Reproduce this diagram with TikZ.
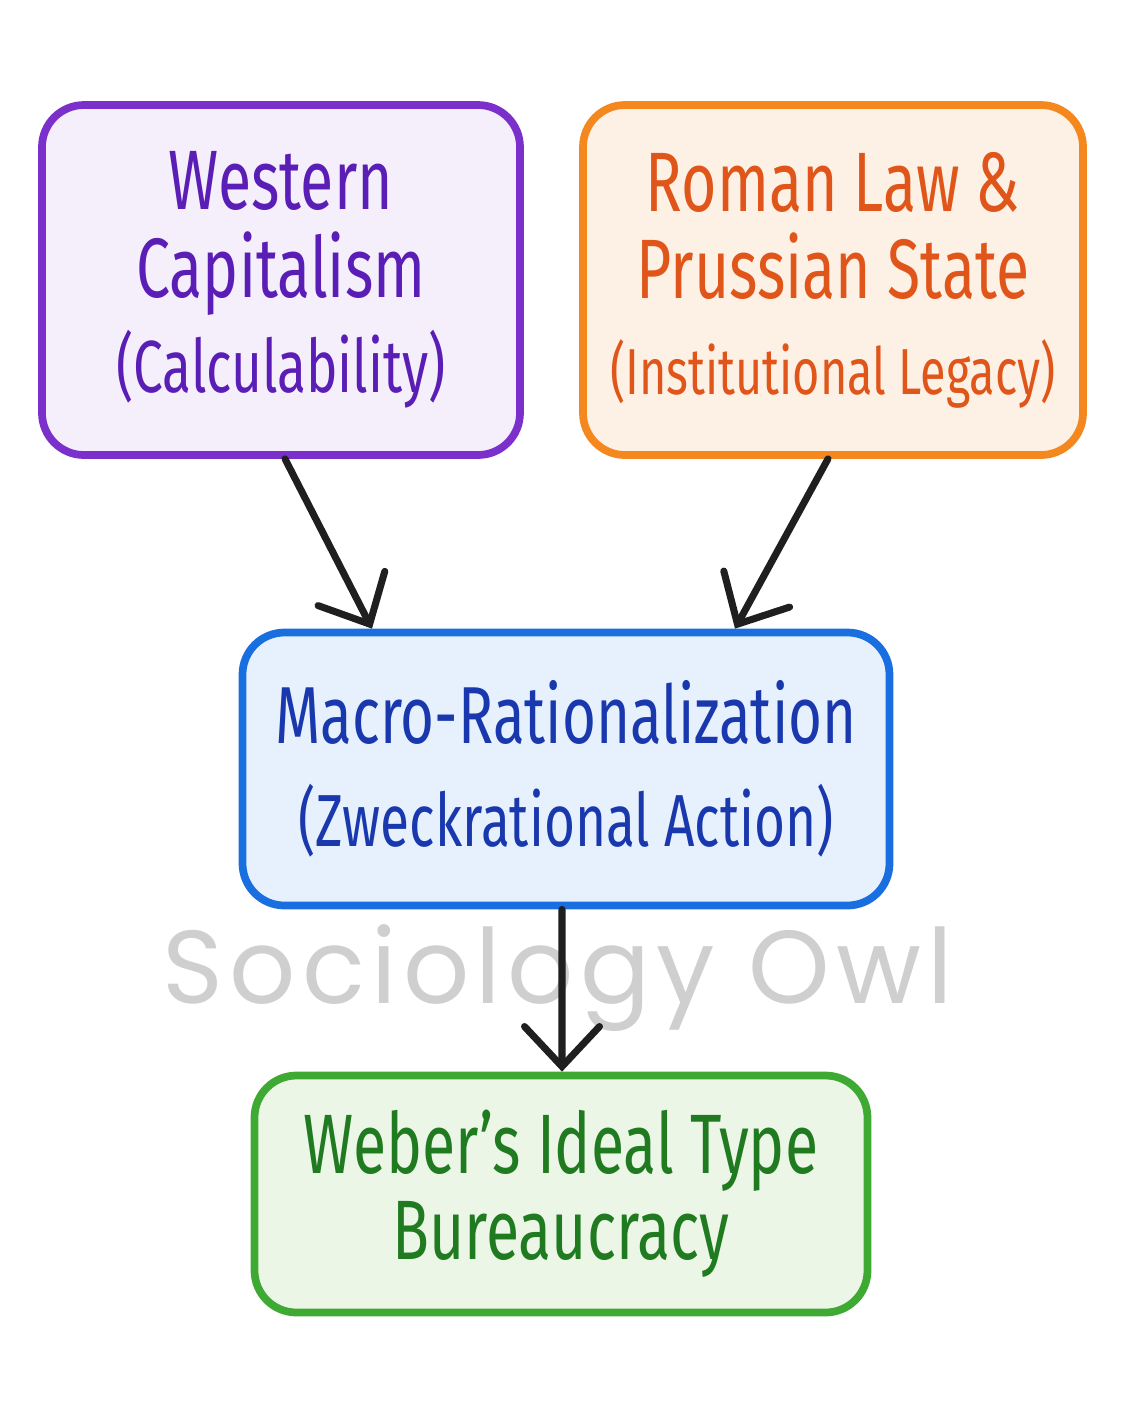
\documentclass[tikz,border=0pt]{standalone}
\usepackage{fontspec}
\usepackage{tikz}
\usetikzlibrary{arrows.meta}
\setmainfont{Fira Sans}
\newfontfamily\handfont{Fira Sans}[FakeStretch=0.72]
\newfontfamily\markfont{Poppins}[LetterSpace=6]
\newcommand\aside[2][21]{{\fontsize{#1}{#1}\selectfont #2}}
\definecolor{capline}{HTML}{7B2FCB}
\definecolor{capfill}{HTML}{F4EFFB}
\definecolor{captext}{HTML}{5A1DB5}
\definecolor{lawline}{HTML}{F5871F}
\definecolor{lawfill}{HTML}{FDF1E5}
\definecolor{lawtext}{HTML}{E0561A}
\definecolor{ratline}{HTML}{1A6FE0}
\definecolor{ratfill}{HTML}{E7F1FD}
\definecolor{rattext}{HTML}{1A38AE}
\definecolor{burline}{HTML}{3FAA33}
\definecolor{burfill}{HTML}{EBF6E7}
\definecolor{burtext}{HTML}{1F7A20}

\begin{document}
\begin{tikzpicture}[
		box/.style={draw, rounded corners=0.42cm, line width=2.2pt, align=center,
			font=\handfont\fontsize{24}{26}\selectfont, inner sep=0pt},
		watermark/.style={font=\markfont\fontsize{29.5}{30}\selectfont, text=black!19},
		flow/.style={-{Straight Barb[length=4mm,width=7.5mm,line cap=round]}, line width=2pt,
			draw=black!88, line cap=round}
	]
		\useasboundingbox[fill=white] (0,0) rectangle (11.22,-14.02);
		\node[watermark] (mark) at (5.58,-9.78) {Sociology Owl};
		\node[box, draw=capline, fill=capfill, text=captext, minimum width=4.78cm, minimum height=3.5cm] (capital) at (2.81,-2.80)
			{Western\\[-0.04cm]Capitalism\\[0.04cm]\aside{(Calculability)}};
		\node[box, draw=lawline, fill=lawfill, text=lawtext, minimum width=5.0cm, minimum height=3.5cm] (roman) at (8.33,-2.80)
			{Roman Law \&\\[-0.04cm]Prussian State\\[0.04cm]\aside[18.5]{(Institutional Legacy)}};
		\node[box, draw=ratline, fill=ratfill, text=rattext, minimum width=6.47cm, minimum height=2.73cm] (macro) at (5.66,-7.69)
			{\aside[23]{Macro-Rationalization}\\[0.12cm]\aside{(Zweckrational Action)}};
		\node[box, draw=burline, fill=burfill, text=burtext, minimum width=6.13cm, minimum height=2.37cm] (weber) at (5.61,-11.94)
			{Weber’s Ideal Type\\[-0.05cm]Bureaucracy};
		\draw[flow] ([xshift=0.04cm]capital.south) -- ([xshift=-1.94cm]macro.north);
		\draw[flow] ([xshift=-0.05cm]roman.south) -- ([xshift=1.69cm]macro.north);
		\draw[flow] ([xshift=-0.04cm]macro.south) -- ([xshift=0.01cm]weber.north);
	\end{tikzpicture}
\end{document}
